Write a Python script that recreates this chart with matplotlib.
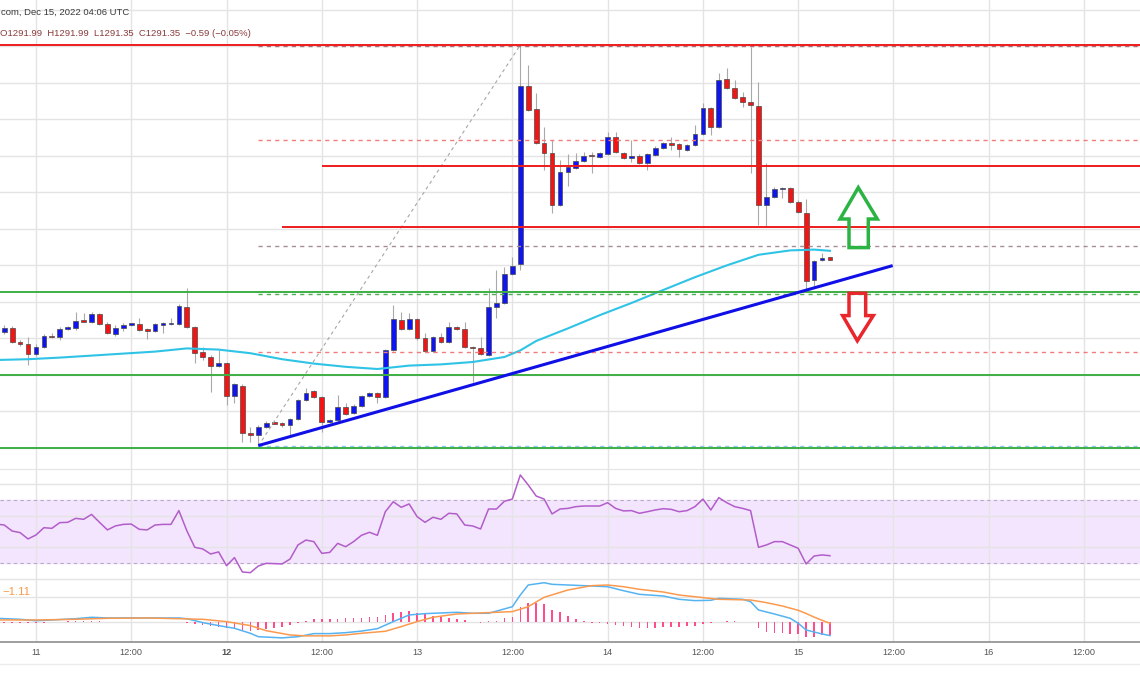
import numpy as np
import matplotlib.pyplot as plt
from matplotlib.patches import Polygon
from matplotlib.lines import Line2D

plt.rcParams['font.family'] = ['Liberation Sans', 'DejaVu Sans']

# ---- hourly candles, hour 0 = Dec 12 00:00 UTC ----
hours = np.arange(-28, 77)
opens = [1272.9, 1273.9, 1270.6, 1269.9, 1267.4, 1269.2, 1271.9, 1271.7, 1273.8, 1273.9,
         1275.9, 1275.4, 1277.5, 1275.1, 1272.4, 1273.9, 1274.8, 1274.9, 1273.7, 1273.3,
         1274.8, 1274.9, 1275.0, 1279.2, 1274.2, 1267.9, 1266.8, 1264.6,
         1265.2, 1257.0, 1259.6, 1247.8, 1247.3, 1249.3, 1250.3, 1250.2, 1249.8, 1251.3,
         1256.0, 1258.3, 1256.8, 1250.6, 1251.0, 1254.3, 1252.7, 1254.5, 1257.0, 1257.8,
         1256.7, 1268.5, 1276.0, 1273.8, 1276.2, 1271.4, 1268.3, 1271.8, 1270.6, 1274.3,
         1273.7, 1269.3, 1268.9, 1267.3, 1279.2, 1280.2, 1287.4, 1289.9, 1334.5, 1328.7,
         1320.2, 1317.8, 1304.8, 1312.9, 1313.9, 1315.8, 1317.2, 1316.8, 1317.5, 1321.8,
         1317.7, 1316.6, 1317.1, 1315.3, 1317.3, 1318.9, 1320.2, 1319.9, 1318.5, 1319.8,
         1322.4, 1328.9, 1324.2, 1336.3, 1333.9, 1331.7, 1330.5, 1329.5, 1304.8, 1306.7,
         1308.7, 1309.0, 1305.6, 1302.8, 1286.0, 1290.9, 1291.7]
highs = [1274.8, 1274.5, 1271.0, 1271.8, 1270.0, 1272.5, 1272.8, 1274.3, 1274.5, 1278.1,
         1277.7, 1278.1, 1277.8, 1275.4, 1274.8, 1275.2, 1275.3, 1276.4, 1274.0, 1275.3,
         1275.5, 1276.4, 1279.9, 1283.9, 1274.5, 1269.3, 1267.3, 1268.5,
         1265.5, 1260.3, 1259.9, 1249.3, 1249.8, 1250.8, 1251.0, 1250.5, 1251.5, 1256.3,
         1258.9, 1258.5, 1257.1, 1251.3, 1257.3, 1255.2, 1254.9, 1257.3, 1258.1, 1258.1,
         1268.8, 1279.8, 1278.1, 1277.7, 1276.5, 1272.7, 1272.1, 1272.7, 1275.6, 1274.6,
         1275.6, 1269.6, 1271.7, 1283.9, 1288.5, 1289.3, 1291.7, 1344.6, 1339.8, 1332.7,
         1324.3, 1321.0, 1316.0, 1317.4, 1317.7, 1318.1, 1318.1, 1318.0, 1323.1, 1323.1,
         1318.0, 1321.0, 1317.4, 1317.8, 1319.4, 1320.6, 1321.8, 1320.3, 1320.1, 1324.8,
         1330.2, 1329.3, 1337.7, 1338.9, 1336.0, 1333.1, 1344.3, 1335.6, 1315.2, 1309.3,
         1309.3, 1309.3, 1306.0, 1306.2, 1291.1, 1292.7, 1291.7]
lows = [1272.6, 1270.3, 1269.5, 1264.8, 1267.0, 1268.9, 1271.4, 1271.0, 1273.5, 1273.6,
        1275.4, 1275.2, 1274.8, 1272.4, 1272.1, 1273.3, 1274.6, 1273.3, 1271.2, 1273.1,
        1272.7, 1274.8, 1274.8, 1274.0, 1265.3, 1266.0, 1258.1, 1264.3,
        1254.8, 1255.2, 1245.6, 1245.6, 1244.8, 1249.0, 1249.9, 1249.3, 1247.3, 1251.0,
        1255.8, 1256.6, 1248.1, 1250.3, 1250.8, 1252.2, 1252.4, 1254.3, 1256.8, 1255.3,
        1256.4, 1268.3, 1273.5, 1273.5, 1271.1, 1268.1, 1268.1, 1270.3, 1270.3, 1273.6,
        1268.9, 1260.6, 1267.3, 1267.0, 1276.4, 1279.9, 1287.2, 1288.5, 1328.3, 1319.9,
        1313.5, 1302.7, 1304.5, 1309.5, 1313.7, 1315.5, 1312.7, 1316.6, 1317.3, 1317.8,
        1316.2, 1315.6, 1315.1, 1313.5, 1317.0, 1318.7, 1318.5, 1316.8, 1318.3, 1319.5,
        1322.2, 1322.3, 1323.9, 1333.7, 1331.3, 1329.3, 1312.7, 1299.8, 1299.3, 1306.4,
        1306.4, 1305.3, 1302.7, 1283.5, 1284.3, 1290.7, 1291.0]
closes = [1273.9, 1270.4, 1269.9, 1267.4, 1269.3, 1272.0, 1271.7, 1273.8, 1274.1, 1275.8,
          1275.6, 1277.5, 1275.0, 1272.7, 1274.1, 1274.7, 1275.0, 1273.5, 1273.3, 1274.9,
          1275.2, 1275.2, 1279.5, 1274.2, 1267.8, 1266.8, 1264.5, 1265.2,
          1257.1, 1259.9, 1247.8, 1247.3, 1249.3, 1250.3, 1250.1, 1249.8, 1251.3, 1256.0,
          1257.8, 1256.8, 1250.6, 1251.0, 1254.3, 1252.4, 1254.6, 1257.0, 1257.8, 1256.7,
          1268.5, 1276.2, 1273.8, 1276.2, 1271.4, 1268.3, 1271.8, 1270.6, 1274.3, 1273.8,
          1269.2, 1268.9, 1267.5, 1279.2, 1280.2, 1287.4, 1289.6, 1334.5, 1328.5, 1320.2,
          1317.8, 1304.8, 1313.1, 1314.2, 1315.8, 1317.1, 1316.9, 1317.7, 1321.8, 1318.1,
          1316.4, 1317.1, 1315.3, 1317.4, 1319.1, 1320.3, 1319.8, 1318.7, 1319.8, 1322.4,
          1328.9, 1324.3, 1336.0, 1333.9, 1331.6, 1330.4, 1329.8, 1304.8, 1306.8, 1308.8,
          1309.0, 1305.6, 1302.9, 1285.8, 1290.8, 1291.5, 1291.0]

# moving average (cyan)
ema_hours = [-29, -25, -21, -17, -13, -9, -5, -1, 3, 7, 11, 15, 19, 23, 27, 31, 35, 37, 39,
             43, 47, 51, 55, 59, 63, 67, 71, 74, 76]
ema_vals = [1266.0, 1266.2, 1266.6, 1267.1, 1267.6, 1268.1, 1268.9, 1268.6, 1267.7, 1266.2,
            1265.1, 1264.3, 1263.75, 1264.6, 1264.9, 1265.5, 1266.75, 1268.4, 1270.75,
            1273.9, 1277.2, 1280.25, 1283.5, 1286.7, 1289.65, 1292.3, 1293.4, 1293.6, 1293.3]

# RSI
rsi_hours = np.arange(-29, 77)
rsi_vals = [54.8,
            54.2, 50.4, 49.4, 45.4, 47.9, 52.5, 52.1, 55.7, 55.9, 58.4,
            57.8, 60.9, 55.9, 51.1, 53.6, 54.6, 54.8, 51.5, 51.1, 54.2,
            54.6, 54.6, 63.3, 50.6, 40.1, 39.1, 35.9, 37.2,
            28.5, 33.6, 24.5, 24.1, 28.3, 30.0, 29.8, 29.6, 32.7, 41.6,
            44.7, 43.7, 36.3, 36.9, 42.6, 40.5, 43.7, 47.7, 49.6, 47.7,
            62.6, 68.9, 65.4, 67.5, 59.5, 55.9, 59.1, 57.8, 61.6, 61.2,
            54.2, 53.6, 51.7, 64.3, 64.3, 69.2, 70.6, 85.8, 79.5, 72.5,
            70.6, 61.2, 64.3, 64.7, 65.8, 66.2, 66.2, 66.2, 68.3, 64.7,
            63.1, 63.3, 61.6, 62.6, 63.7, 64.5, 64.1, 62.6, 63.3, 65.8,
            70.6, 63.7, 71.5, 68.3, 65.8, 64.7, 63.3, 40.1, 41.6, 43.7,
            43.7, 41.6, 39.5, 29.6, 34.6, 35.3, 34.8]

# MACD
macd_hours = [-29, -26, -24, -22, -19, -17, -15, -10, -6, -5, -3, -1, 1, 3, 4, 7, 9, 11, 13,
              15, 17, 19, 21, 23, 25, 26, 29, 31, 33, 36, 37, 38, 40, 41, 43, 46, 48, 50, 52,
              55, 57, 59, 61, 62, 65, 66, 67, 69, 71, 72, 73, 75, 76]
macd_vals = [1.0, 0.75, 0.4, 0.58, 0.9, 1.25, 1.08, 1.08, 1.08, 0.9, -0.08, -0.83, -1.5,
             -2.75, -3.6, -3.9, -3.6, -2.83, -2.83, -2.6, -2.2, -1.6, 0.17, 1.83, 2.17, 2.25,
             2.5, 2.25, 2.25, 3.9, 6.83, 9.33, 9.9, 9.5, 9.33, 9.08, 8.9, 7.9, 7.0, 6.58,
             5.75, 5.42, 5.5, 6.0, 5.75, 5.17, 3.08, 2.08, 1.0, -0.25, -1.92, -2.92, -3.33]
signal_hours = [-29, -24, -19, -15, -10, -6, -3, 0, 3, 5, 8, 10, 13, 15, 17, 20, 22, 24, 26,
                29, 31, 33, 36, 38, 40, 43, 46, 48, 50, 52, 55, 57, 60, 62, 66, 68, 70, 72,
                73, 74, 75, 76]
signal_vals = [0.58, 0.58, 0.75, 1.0, 1.08, 0.9, 0.75, 0.17, -0.83, -2.1, -3.17, -3.4, -3.4,
               -3.17, -2.75, -2.25, -1.08, 0.17, 1.25, 2.08, 2.25, 2.42, 2.67, 3.9, 6.25,
               8.08, 9.17, 9.33, 8.9, 8.25, 7.58, 6.83, 6.17, 5.75, 5.58, 4.92, 4.08, 3.0,
               2.2, 1.3, 0.5, -0.25]
hist_vals = [-0.2, -0.25, -0.25, -0.2, -0.15, -0.1, 0.05, 0.15, 0.2, 0.25,
             0.3, 0.25, 0.2, 0.1, 0.05, 0.05, 0.0, -0.05, 0.05, 0.05,
             0.0, 0.05, 0.1, -0.1, -0.42, -0.67, -0.83, -1.08,
             -1.33, -1.5, -1.92, -2.17, -1.92, -1.67, -1.33, -1.08, -0.67, -0.25,
             0.33, 0.92, 0.83, 0.75, 0.83, 1.0, 1.08, 1.17, 1.25, 1.42,
             1.83, 2.42, 2.67, 2.83, 2.42, 2.08, 1.58, 1.42, 1.17, 0.75,
             0.5, 0.17, -0.17, 0.25, 0.42, 1.08, 1.42, 3.92, 4.92, 4.75,
             4.58, 3.08, 2.5, 1.67, 0.75, 0.25, -0.25, -0.25, -0.42, -0.67,
             -0.83, -1.08, -1.33, -1.5, -1.33, -1.25, -1.25, -1.17, -1.0, -0.83,
             -0.42, -0.17, 0.08, 0.25, 0.25, 0.17, 0.0, -1.5, -2.33, -2.75,
             -2.75, -2.92, -3.0, -3.58, -3.58, -3.17, -3.17]

tick_hours = [-24, -12, 0, 12, 24, 36, 48, 60, 72, 84, 96, 108]
tick_labels = ['11', '12:00', '12', '12:00', '13', '12:00', '14', '12:00', '15', '12:00',
               '16', '12:00']

# drawn levels
red_levels = [1344.75, 1314.5, 1299.2]
red_from = [-30, 12, 7]
green_levels = [1282.9, 1262.25, 1243.9]
fib_levels = [1344.4, 1321.0, 1294.5, 1282.6, 1268.1, 1244.4]
fib_colors = ['#b06a6a', '#f27c7c', '#a88e92', '#4cb050', '#f27c7c', '#8ccaf0']
trend_hours = [4, 83.9]
trend_vals = [1244.6, 1289.6]
fib_diag_hours = [4, 37]
fib_diag_vals = [1244.5, 1344.75]

# ==========================================
W, H = 1140, 694
fig = plt.figure(figsize=(W / 100, H / 100), dpi=100)


def pane(top, bottom):
    return fig.add_axes([0, 1 - bottom / H, 1, (bottom - top) / H])


ax_p = pane(0, 469)
ax_r = pane(469, 582)
ax_m = pane(582, 642)

grid_c = '#e4e4e4'
for ax in (ax_p, ax_r, ax_m):
    ax.set_xlim(-28.53, 115.05)
    ax.set_xticks(tick_hours)
    ax.grid(True, color=grid_c, lw=1.0, zorder=0)
    ax.tick_params(length=0, labelleft=False, labelbottom=False)
    for s in ax.spines.values():
        s.set_visible(False)

# --- price pane ---
ax_p.set_ylim(1238.75, 1356)
ax_p.set_yticks(np.arange(1244.1, 1356, 9.125))

o = np.array(opens)
c = np.array(closes)
up = c >= o
body_col = np.where(up, '#0f14f2', '#f51414')
ax_p.vlines(hours, lows, highs, color='#a9a9a9', lw=0.8, zorder=3)
ax_p.bar(hours, np.maximum(np.abs(c - o), 0.35), bottom=np.minimum(o, c), width=0.6,
         color=body_col, edgecolor='#4a4a4a', lw=0.5, zorder=4)

ax_p.plot(ema_hours, ema_vals, color='#2fc3e6', lw=1.5, zorder=5)

for lvl, col in zip(fib_levels, fib_colors):
    ax_p.hlines(lvl, 4, 116, color=col, lw=1.0, linestyles=(0, (3, 3)), zorder=5)
for lvl, x0 in zip(red_levels, red_from):
    ax_p.hlines(lvl, x0, 116, color='#ee1c1c', lw=1.4, zorder=6)
for lvl in green_levels:
    ax_p.axhline(lvl, color='#3fae45', lw=1.4, zorder=6)

ax_p.plot(fib_diag_hours, fib_diag_vals, color='#a6a6a6', lw=0.8, ls=(0, (3, 3)), zorder=5)
ax_p.plot(trend_hours, trend_vals, color='#1010e6', lw=2.2, solid_capstyle='butt', zorder=7)

up_arrow = [(79.57, 1309.1), (81.96, 1301.25), (80.83, 1301.25), (80.83, 1294.1),
            (78.4, 1294.1), (78.4, 1301.25), (77.27, 1301.25)]
down_arrow = [(78.4, 1282.7), (80.5, 1282.7), (80.5, 1277.1), (81.46, 1277.1),
              (79.45, 1270.8), (77.6, 1277.1), (78.4, 1277.1)]
ax_p.add_patch(Polygon(up_arrow, closed=True, fill=False, ec='#2bb344', lw=2.5,
                       joinstyle='miter', zorder=8))
ax_p.add_patch(Polygon(down_arrow, closed=True, fill=False, ec='#e8262c', lw=2.5,
                       joinstyle='miter', zorder=8))

# --- RSI pane ---
ax_r.set_ylim(18.2, 89.58)
ax_r.set_yticks([20, 40, 60, 80])
ax_r.spines['top'].set_visible(True)
ax_r.spines['top'].set_color(grid_c)
ax_r.axhspan(30, 70, color='#f3e5fd', zorder=1)
for lvl in (30, 70):
    ax_r.axhline(lvl, color='#b9a9c4', lw=0.8, ls=(0, (3, 3)), zorder=2)
ax_r.plot(rsi_hours, rsi_vals, color='#b25dca', lw=1.1, zorder=4)

# --- MACD pane ---
ax_m.set_ylim(-4.93, 10.08)
ax_m.set_yticks([0, 6.25])
ax_m.bar(hours, hist_vals, width=0.2, color='#ff4c8c', zorder=2)
ax_m.plot(macd_hours, macd_vals, color='#55b3f2', lw=1.1, zorder=3)
ax_m.plot(signal_hours, signal_vals, color='#fb9a4e', lw=1.1, zorder=3)
ax_m.text(0.002, 0.83, '\u22121.11', transform=ax_m.transAxes, color='#f79a4c',
          fontsize=8.2, va='center', ha='left')

ax_m.spines['bottom'].set_visible(True)
ax_m.spines['bottom'].set_color('#8e8e8e')
ax_m.spines['bottom'].set_linewidth(1.2)
ax_m.tick_params(axis='x', labelbottom=True, pad=4, labelsize=6.6, labelcolor='#555555')
ax_m.set_xticklabels(tick_labels)
ax_m.get_xticklabels()[2].set_fontweight('bold')

fig.add_artist(Line2D([0, 1], [1 - 664 / H] * 2, color='#ececec', lw=1,
                      transform=fig.transFigure))

# header
fig.text(1 / W, 1 - 12.5 / H, 'com, Dec 15, 2022 04:06 UTC', fontsize=6.8,
         color='#3a3a3a', va='center', ha='left')
fig.text(0.5 / W, 1 - 34 / H,
         'O1291.99  H1291.99  L1291.35  C1291.35  \u22120.59 (\u22120.05%)',
         fontsize=6.8, color='#8b3b3b', va='center', ha='left')

fig.savefig('out.png', dpi=100)
